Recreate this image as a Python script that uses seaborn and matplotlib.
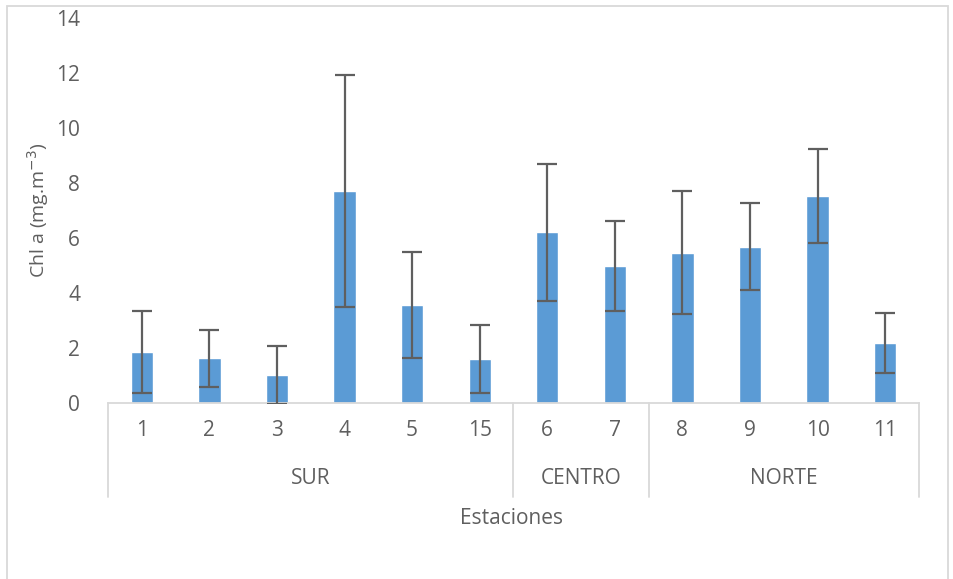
import matplotlib
matplotlib.use("Agg")

import matplotlib.pyplot as plt
import seaborn as sns
import pandas as pd

# datos
estaciones = ["1", "2", "3", "4", "5", "15", "6", "7", "8", "9", "10", "11"]
chla = [1.85, 1.62, 1.02, 7.72, 3.57, 1.60, 6.20, 4.97, 5.47, 5.68, 7.52, 2.18]
desv = [1.48, 1.05, 1.05, 4.22, 1.92, 1.22, 2.50, 1.63, 2.22, 1.58, 1.70, 1.10]
zonas = ["SUR", "CENTRO", "NORTE"]
n_por_zona = [6, 2, 4]

gris = "#5f5f5f"
linea = "#d9d9d9"
azul = "#5b9bd5"
fs = 15

sns.set_theme(style="white")
plt.rcParams["font.family"] = ["Open Sans", "DejaVu Sans"]

df = pd.DataFrame({"estacion": estaciones, "chla": chla})

fig = plt.figure(figsize=(9.54, 5.79), dpi=100)
ax = fig.add_axes([0.1132, 0.304, 0.850, 0.665])

sns.barplot(data=df, x="estacion", y="chla", order=estaciones,
            color=azul, width=0.33, saturation=1, ax=ax, errorbar=None)
ax.errorbar(range(len(estaciones)), chla, yerr=desv, fmt="none",
            ecolor=gris, elinewidth=1.6, capsize=7, capthick=1.6, zorder=3)

ax.set_ylim(0, 14)
ax.set_yticks(range(0, 15, 2))
ax.set_xlim(-0.5, len(estaciones) - 0.5)
for s in ["top", "right", "left"]:
    ax.spines[s].set_visible(False)
ax.spines["bottom"].set_color(linea)
ax.spines["bottom"].set_linewidth(1.3)
ax.tick_params(axis="y", length=0, pad=20, labelsize=fs, labelcolor=gris)
ax.tick_params(axis="x", length=0, pad=12, labelsize=fs, labelcolor=gris)
ax.set_xlabel("")
ax.set_ylabel(r"Chl a (mg.m$^{-3}$)", fontsize=fs - 1, color=gris, labelpad=4)

# tabla de categorías (zonas)
trans = ax.get_xaxis_transform()
y_fondo = -0.245
bordes = [-0.5]
for n in n_por_zona:
    bordes.append(bordes[-1] + n)
for b in bordes:
    ax.plot([b, b], [0, y_fondo], color=linea, lw=1.3, transform=trans, clip_on=False)
for i, z in enumerate(zonas):
    ax.text((bordes[i] + bordes[i + 1]) / 2, -0.197, z, transform=trans,
            ha="center", va="center", fontsize=fs, color=gris)

ax.text(0.497, -0.30, "Estaciones", transform=ax.transAxes, ha="center",
        va="center", fontsize=fs, color=gris)

# marco exterior
fig.patches.append(plt.Rectangle((0.007, -0.01), 0.987, 1.0, fill=False,
                                 edgecolor=linea, lw=1.3, transform=fig.transFigure))

plt.savefig("out.png", dpi=100)
plt.close()
